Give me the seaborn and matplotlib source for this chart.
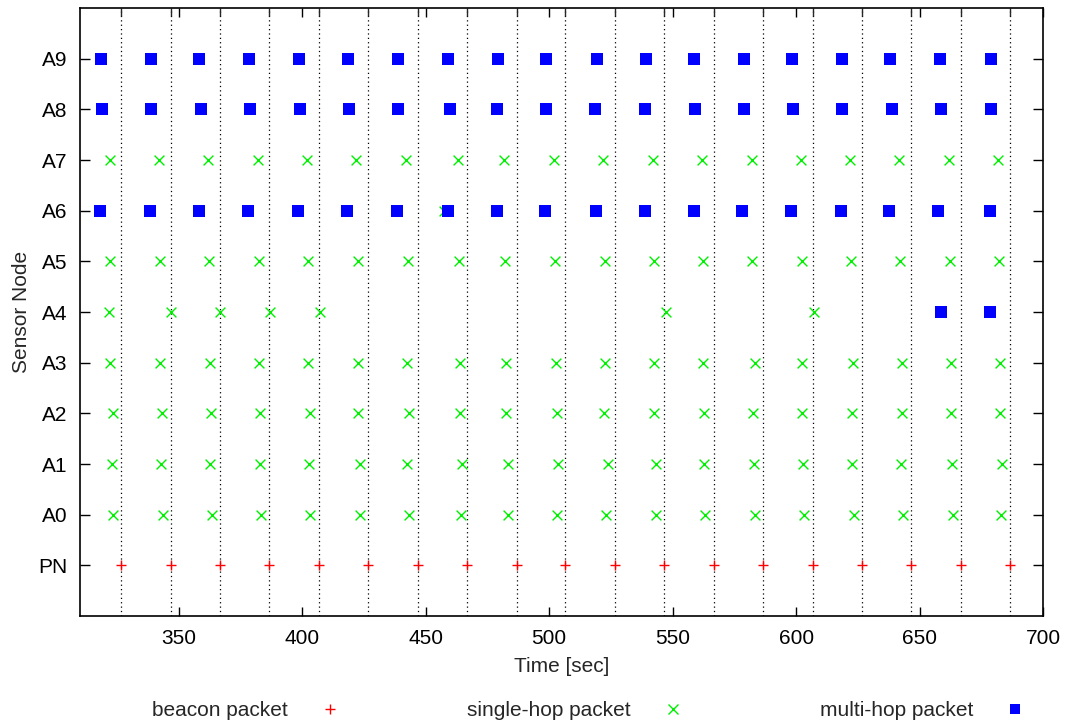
import matplotlib
matplotlib.use("Agg")
import matplotlib.pyplot as plt
import seaborn as sns
import pandas as pd
from matplotlib.ticker import MultipleLocator, FixedLocator
from matplotlib.lines import Line2D

# ---------------- data ----------------
node_labels = ["PN", "A0", "A1", "A2", "A3", "A4", "A5", "A6", "A7", "A8", "A9"]

beacon_times = [326.8, 346.9, 366.7, 386.7, 406.6, 426.8, 446.8, 466.8, 486.8, 506.6,
                526.7, 546.7, 566.7, 586.7, 606.7, 626.7, 646.6, 666.6, 686.6]

a0_single = [323.5, 343.5, 363.4, 383.3, 403.3, 423.4, 443.2, 464.2, 483.4, 503.1,
             523.2, 543.3, 563.2, 583.3, 603.3, 623.3, 643.4, 663.4, 683.0]
a1_single = [322.8, 342.7, 362.8, 382.8, 402.8, 423.3, 442.6, 464.6, 483.3, 503.6,
             523.8, 543.1, 562.9, 582.9, 603.0, 622.6, 642.3, 663.1, 683.4]
a2_single = [323.2, 343.2, 363.1, 382.9, 403.0, 422.6, 443.3, 463.8, 482.4, 503.0,
             522.4, 542.4, 562.7, 582.4, 602.5, 622.7, 642.7, 662.6, 682.4]
a3_single = [322.3, 342.4, 362.5, 382.4, 402.4, 422.4, 442.5, 463.9, 482.6, 502.6,
             522.6, 542.5, 562.4, 583.3, 602.6, 622.9, 642.9, 662.7, 682.6]
a4_single = [321.7, 346.9, 366.9, 387.0, 407.1, 547.3, 607.3]
a5_single = [322.3, 342.4, 362.3, 382.4, 402.4, 422.4, 442.7, 463.4, 482.3, 502.4,
             522.6, 542.5, 562.2, 582.2, 602.4, 622.3, 642.2, 662.3, 682.3]
a6_single = [457.6]
a7_single = [322.0, 341.9, 362.0, 382.0, 401.8, 421.8, 442.1, 463.1, 481.8, 501.9,
             521.9, 541.9, 561.7, 582.0, 601.9, 621.8, 641.8, 661.8, 681.9]

a4_multi = [658.7, 678.5]
a6_multi = [318.0, 338.2, 358.1, 377.9, 398.2, 418.0, 438.3, 459.0, 478.8, 498.2,
            518.9, 538.8, 558.6, 578.0, 597.9, 618.2, 637.6, 657.4, 678.5]
a8_multi = [319.1, 338.6, 358.9, 378.7, 399.0, 418.8, 438.7, 459.8, 478.8, 498.7,
            518.5, 538.8, 559.0, 578.9, 598.7, 618.6, 638.8, 658.7, 678.9]
a9_multi = [318.4, 338.6, 358.1, 378.3, 398.5, 418.4, 438.7, 459.2, 479.2, 498.7,
            519.3, 539.2, 558.6, 578.9, 598.3, 618.6, 638.0, 658.3, 678.9]

single_hop = {"A0": a0_single, "A1": a1_single, "A2": a2_single, "A3": a3_single,
              "A4": a4_single, "A5": a5_single, "A6": a6_single, "A7": a7_single}
multi_hop = {"A4": a4_multi, "A6": a6_multi, "A8": a8_multi, "A9": a9_multi}

# ---------------- build tables ----------------
node_index = {n: i for i, n in enumerate(node_labels)}
beacon_df = pd.DataFrame({"time": beacon_times, "node": [node_index["PN"]] * len(beacon_times)})
single_df = pd.DataFrame([(t, node_index[n]) for n, ts in single_hop.items() for t in ts],
                         columns=["time", "node"])
multi_df = pd.DataFrame([(t, node_index[n]) for n, ts in multi_hop.items() for t in ts],
                        columns=["time", "node"])

# ---------------- style ----------------
FS = 15
sns.set_theme(style="white")
plt.rcParams["font.family"] = ["Liberation Sans", "DejaVu Sans"]
plt.rcParams["font.size"] = FS

RED = "#ff0000"
GREEN = "#00ee00"
BLUE = "#0000ff"

fig = plt.figure(figsize=(10.72, 7.25), dpi=100)
ax = fig.add_axes([80 / 1072, 1 - 616 / 725, (1043 - 80) / 1072, (616 - 8) / 725])

sns.scatterplot(data=beacon_df, x="time", y="node", marker="+", color=RED,
                s=55, linewidth=1.0, ax=ax, zorder=3, legend=False)
sns.scatterplot(data=single_df, x="time", y="node", marker="x", color=GREEN,
                s=50, linewidth=1.0, ax=ax, zorder=3, legend=False)
sns.scatterplot(data=multi_df, x="time", y="node", marker="s", color=BLUE,
                s=72, linewidth=0, ax=ax, zorder=4, legend=False)

ax.set_xlim(310, 700)
ax.set_ylim(-1, 11)
ax.xaxis.set_major_locator(MultipleLocator(50))
ax.xaxis.set_minor_locator(FixedLocator(beacon_times))
ax.set_yticks(range(len(node_labels)))
ax.set_yticklabels(node_labels)

ax.tick_params(axis="x", which="major", direction="in", length=6.5, width=1,
               top=True, bottom=True, pad=9, labelsize=FS, colors="black")
ax.tick_params(axis="x", which="minor", direction="in", length=6, width=1,
               top=True, bottom=False)
ax.tick_params(axis="y", which="major", direction="in", length=7, width=1,
               left=True, right=True, pad=9, labelsize=FS, colors="black")

ax.grid(False)
ax.grid(which="minor", axis="x", color="black", linestyle=(0, (1, 2.5)), linewidth=0.9)

for sp in ax.spines.values():
    sp.set_color("black")
    sp.set_linewidth(1.2)

ax.set_xlabel("Time [sec]", fontsize=FS, labelpad=7)
ax.set_ylabel("Sensor Node", fontsize=FS, labelpad=5)

# ---------------- legend (text left of marker) ----------------
legend_specs = [
    ("beacon packet", Line2D([], [], linestyle="none", marker="+", color=RED,
                              markersize=7, markeredgewidth=1.0), 330),
    ("single-hop packet", Line2D([], [], linestyle="none", marker="x", color=GREEN,
                                  markersize=6.5, markeredgewidth=1.0), 673),
    ("multi-hop packet", Line2D([], [], linestyle="none", marker="s", color=BLUE,
                                 markersize=7.5, markeredgewidth=0), 1015),
]
em = FS * 100 / 72.0
for label, handle, xc in legend_specs:
    fig.legend([handle], [label], loc="center right",
               bbox_to_anchor=((xc + em * 0.5) / 1072, 1 - 711 / 725),
               frameon=False, markerfirst=False, handlelength=1.0,
               handletextpad=(42 - em * 0.5) / em, borderpad=0,
               borderaxespad=0, fontsize=FS)

fig.savefig("out.png", dpi=100)
